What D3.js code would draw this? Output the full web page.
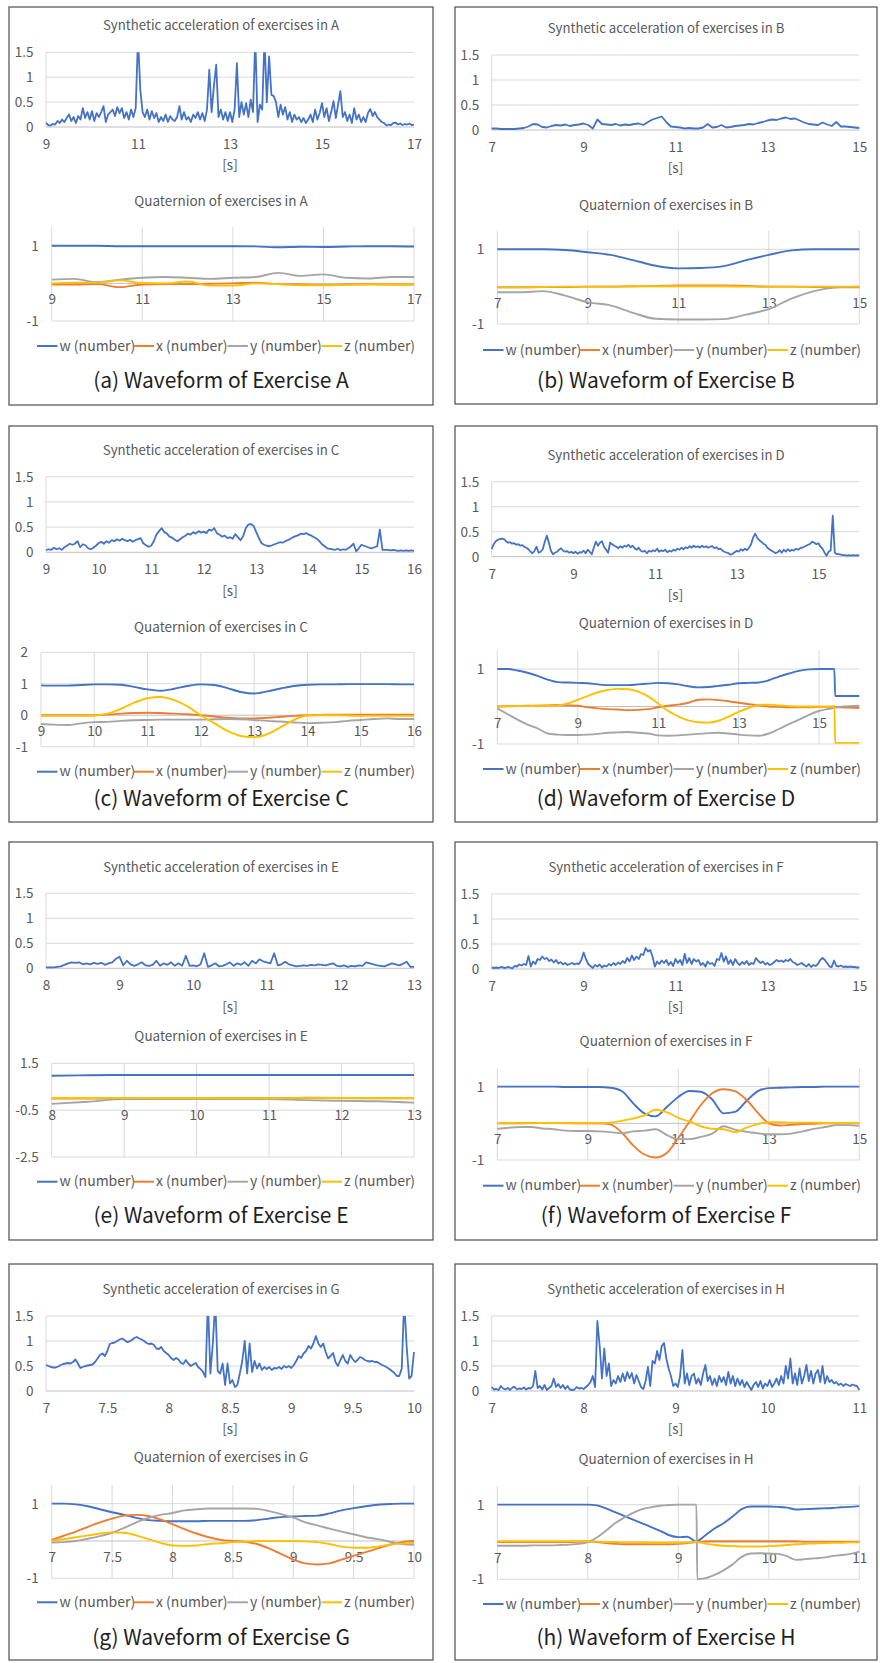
<!DOCTYPE html>
<html>
<head>
<meta charset="utf-8">
<script src="https://cdn.jsdelivr.net/npm/d3@7"></script>
<style>
  html, body { margin: 0; padding: 0; background: #ffffff; }
  svg { display: block; font-family: "Noto Sans CJK JP", "Noto Sans", sans-serif; }
</style>
</head>
<body>
<svg id="fig" width="880" height="1663"></svg>
<script>
// ---------------- shared labels ----------------
const seriesNames = ["w (number)", "x (number)", "y (number)", "z (number)"];
const accYTicks = [0, 0.5, 1, 1.5];

// ---------------- Exercise A ----------------
const accTicksA = [9, 11, 13, 15, 17];
const accA = [
  0.08,0.04,0.03,0.06,0.05,0.12,0.08,0.15,0.10,0.18,
  0.25,0.12,0.20,0.08,0.22,0.15,0.38,0.18,0.30,0.15,
  0.32,0.12,0.28,0.20,0.30,0.42,0.10,0.25,0.30,0.35,
  0.22,0.40,0.28,0.38,0.18,0.30,0.15,0.35,0.20,0.38,
  1.80,0.75,0.30,0.20,0.35,0.15,0.32,0.18,0.28,0.10,
  0.20,0.12,0.25,0.10,0.22,0.15,0.12,0.20,0.42,0.15,
  0.30,0.15,0.20,0.10,0.25,0.18,0.30,0.15,0.28,0.12,
  0.35,1.15,0.30,0.82,1.25,0.20,0.35,0.15,0.30,0.12,
  0.30,0.10,0.35,1.28,0.20,0.50,0.25,0.48,0.20,0.55,
  0.30,1.80,0.10,0.45,0.35,1.80,0.50,1.42,0.65,0.62,
  0.50,0.20,0.45,0.25,0.40,0.15,0.30,0.10,0.25,0.15,
  0.20,0.10,0.18,0.08,0.15,0.25,0.10,0.35,0.15,0.28,
  0.48,0.20,0.38,0.12,0.30,0.52,0.18,0.45,0.72,0.20,
  0.30,0.12,0.25,0.08,0.38,0.15,0.25,0.10,0.20,0.10,
  0.28,0.36,0.22,0.30,0.20,0.15,0.10,0.08,0.03,0.05,
  0.04,0.08,0.09,0.05,0.07,0.04,0.06,0.05,0.07,0.04,
  0.05
];
const quatTA = [9,9.5,10,10.5,11,11.5,12,12.5,13,13.5,14,14.5,15,15.5,16,16.5,17];
const quatWA = [1.0,1.0,1.0,0.99,0.99,0.99,0.99,0.99,0.99,0.985,0.96,0.975,0.97,0.98,0.99,0.99,0.98];
const quatXA = [-0.03,-0.03,-0.02,-0.1,-0.03,-0.02,-0.02,-0.01,0.0,0.02,-0.02,-0.03,-0.04,-0.03,-0.02,-0.03,-0.03];
const quatYA = [0.1,0.12,0.03,0.1,0.15,0.17,0.15,0.12,0.15,0.17,0.28,0.2,0.24,0.15,0.13,0.17,0.17];
const quatZA = [0.0,0.02,0.02,0.08,0.01,0.0,0.05,-0.06,-0.06,0.0,-0.02,-0.05,-0.05,-0.04,-0.03,-0.03,-0.03];
const quatYTicksA = [-1, 1];

// ---------------- Exercise B ----------------
const accTicksB = [7, 9, 11, 13, 15];
const accB = [
  0.03,0.03,0.02,0.02,0.02,0.02,0.03,0.04,0.07,0.12,
  0.11,0.06,0.05,0.08,0.10,0.09,0.11,0.08,0.10,0.11,
  0.13,0.10,0.03,0.21,0.12,0.11,0.10,0.12,0.09,0.11,
  0.10,0.12,0.13,0.10,0.16,0.21,0.24,0.27,0.16,0.07,
  0.06,0.05,0.03,0.04,0.03,0.03,0.05,0.12,0.05,0.06,
  0.10,0.05,0.06,0.08,0.09,0.10,0.12,0.11,0.14,0.16,
  0.19,0.21,0.20,0.23,0.25,0.22,0.23,0.19,0.15,0.12,
  0.11,0.10,0.15,0.11,0.08,0.16,0.07,0.07,0.06,0.05,
  0.04
];
const quatTB = [7,7.5,8,8.5,9,9.5,10,10.5,11,11.5,12,12.5,13,13.5,14,14.5,15];
const quatWB = [1.0,1.0,1.0,0.98,0.92,0.85,0.71,0.56,0.49,0.5,0.55,0.71,0.85,0.97,1.0,1.0,1.0];
const quatXB = [-0.02,-0.02,-0.01,-0.01,0.0,0.0,0.01,0.02,0.03,0.03,0.03,0.02,0.0,0.0,-0.01,-0.02,-0.02];
const quatYB = [-0.15,-0.15,-0.12,-0.24,-0.42,-0.5,-0.7,-0.86,-0.88,-0.88,-0.87,-0.75,-0.6,-0.32,-0.12,-0.02,0.0];
const quatZB = [-0.02,-0.02,-0.01,0.0,0.0,0.0,0.01,0.01,0.01,0.01,0.01,0.0,0.0,0.0,0.0,0.0,0.0];
const quatYTicksB = [-1, 1];

// ---------------- Exercise C ----------------
const accTicksC = [9, 10, 11, 12, 13, 14, 15, 16];
const accC = [
  0.04,0.06,0.05,0.09,0.06,0.08,0.05,0.10,0.13,0.17,
  0.15,0.17,0.22,0.10,0.16,0.14,0.08,0.06,0.09,0.13,
  0.18,0.21,0.17,0.22,0.19,0.24,0.22,0.26,0.23,0.27,
  0.24,0.22,0.25,0.21,0.24,0.26,0.28,0.18,0.14,0.11,
  0.13,0.22,0.35,0.42,0.48,0.40,0.37,0.31,0.29,0.25,
  0.22,0.26,0.30,0.33,0.37,0.35,0.40,0.37,0.42,0.39,
  0.41,0.38,0.45,0.43,0.48,0.38,0.35,0.31,0.33,0.28,
  0.30,0.27,0.36,0.30,0.24,0.32,0.48,0.55,0.56,0.52,
  0.40,0.28,0.18,0.15,0.13,0.12,0.14,0.16,0.18,0.20,
  0.19,0.22,0.24,0.27,0.30,0.32,0.34,0.37,0.36,0.38,
  0.35,0.33,0.30,0.27,0.22,0.16,0.12,0.08,0.07,0.06,
  0.05,0.07,0.04,0.06,0.05,0.08,0.12,0.17,0.02,0.08,
  0.15,0.13,0.11,0.09,0.08,0.10,0.12,0.45,0.05,0.05,
  0.05,0.04,0.05,0.04,0.03,0.04,0.03,0.04,0.03,0.04,
  0.03
];
const quatTC = [9,9.25,9.5,9.75,10,10.25,10.5,10.75,11,11.25,11.5,11.75,12,12.25,12.5,12.75,13,13.25,13.5,13.75,14,14.25,14.5,14.75,15,15.25,15.5,15.75,16];
const quatWC = [0.95,0.94,0.94,0.96,0.98,0.98,0.97,0.9,0.82,0.78,0.84,0.93,0.98,0.96,0.86,0.74,0.69,0.76,0.85,0.93,0.97,0.98,0.98,0.99,0.99,0.99,0.99,0.98,0.98];
const quatXC = [0.0,0.0,0.0,0.0,0.0,0.02,0.05,0.07,0.08,0.07,0.05,0.03,0.0,-0.04,-0.08,-0.1,-0.1,-0.08,-0.05,-0.02,0.0,0.01,0.02,0.02,0.02,0.02,0.02,0.02,0.02];
const quatYC = [-0.28,-0.3,-0.31,-0.26,-0.22,-0.21,-0.18,-0.16,-0.15,-0.14,-0.14,-0.14,-0.14,-0.13,-0.12,-0.13,-0.15,-0.18,-0.2,-0.23,-0.25,-0.24,-0.22,-0.18,-0.15,-0.12,-0.1,-0.12,-0.12];
const quatZC = [-0.02,-0.02,-0.02,-0.02,-0.01,0.05,0.2,0.4,0.54,0.58,0.48,0.28,0.0,-0.25,-0.5,-0.66,-0.7,-0.6,-0.38,-0.15,-0.01,0.0,0.0,-0.01,-0.02,-0.02,-0.02,-0.02,-0.02];
const quatYTicksC = [-1, 0, 1, 2];

// ---------------- Exercise D ----------------
const accTicksD = [7, 9, 11, 13, 15];
const accD = [
  0.15,0.25,0.31,0.34,0.35,0.36,0.35,0.31,0.28,0.29,
  0.26,0.27,0.24,0.25,0.22,0.23,0.20,0.18,0.15,0.10,
  0.07,0.12,0.20,0.08,0.10,0.15,0.30,0.42,0.28,0.12,
  0.05,0.08,0.10,0.14,0.17,0.12,0.10,0.11,0.08,0.10,
  0.07,0.10,0.06,0.09,0.08,0.12,0.07,0.14,0.10,0.05,
  0.18,0.30,0.22,0.28,0.31,0.20,0.14,0.08,0.28,0.25,
  0.22,0.20,0.17,0.21,0.18,0.22,0.20,0.24,0.19,0.22,
  0.17,0.14,0.18,0.12,0.10,0.12,0.07,0.12,0.10,0.13,
  0.11,0.16,0.10,0.13,0.11,0.14,0.09,0.12,0.10,0.14,
  0.12,0.16,0.14,0.18,0.15,0.19,0.17,0.21,0.18,0.22,
  0.19,0.21,0.18,0.22,0.19,0.21,0.18,0.20,0.21,0.17,
  0.19,0.15,0.16,0.12,0.10,0.08,0.07,0.04,0.06,0.09,
  0.12,0.10,0.15,0.12,0.16,0.13,0.18,0.25,0.38,0.46,
  0.38,0.33,0.30,0.26,0.24,0.18,0.15,0.12,0.10,0.07,
  0.09,0.13,0.08,0.14,0.10,0.15,0.11,0.14,0.12,0.16,
  0.14,0.17,0.18,0.20,0.22,0.24,0.26,0.30,0.28,0.25,
  0.27,0.20,0.16,0.08,0.02,0.10,0.13,0.82,0.08,0.05,
  0.05,0.04,0.03,0.03,0.02,0.03,0.02,0.03,0.02,0.03,
  0.02
];
const quatTD = [7,7.25,7.5,7.75,8,8.25,8.5,8.75,9,9.25,9.5,9.75,10,10.25,10.5,10.75,11,11.25,11.5,11.75,12,12.25,12.5,12.75,13,13.25,13.5,13.75,14,14.25,14.5,14.75,15,15.25,15.38,15.4,15.5,15.75,16];
const quatWD = [1.0,1.0,0.96,0.9,0.82,0.72,0.65,0.64,0.63,0.62,0.59,0.57,0.57,0.57,0.59,0.61,0.63,0.62,0.59,0.54,0.51,0.52,0.55,0.58,0.62,0.63,0.64,0.7,0.8,0.88,0.95,0.99,1.0,1.0,1.0,0.28,0.28,0.28,0.28];
const quatXD = [0.0,0.01,0.01,0.02,0.02,0.03,0.04,0.03,0.02,-0.02,-0.05,-0.07,-0.08,-0.1,-0.09,-0.07,-0.02,0.02,0.05,0.1,0.18,0.19,0.17,0.14,0.1,0.06,0.03,0.0,-0.01,-0.02,-0.02,-0.02,-0.01,-0.01,0.0,-0.02,-0.02,-0.03,-0.04];
const quatYD = [-0.05,-0.2,-0.35,-0.48,-0.58,-0.72,-0.75,-0.76,-0.76,-0.75,-0.73,-0.7,-0.69,-0.68,-0.7,-0.72,-0.77,-0.78,-0.77,-0.75,-0.73,-0.71,-0.7,-0.72,-0.75,-0.77,-0.78,-0.72,-0.6,-0.47,-0.35,-0.22,-0.12,-0.06,-0.03,-0.02,-0.01,0.01,0.02];
const quatZD = [0.0,0.0,0.01,0.01,0.02,0.02,0.03,0.08,0.18,0.28,0.38,0.44,0.47,0.46,0.4,0.27,0.08,-0.12,-0.26,-0.37,-0.42,-0.43,-0.38,-0.27,-0.14,-0.04,0.04,0.05,0.03,0.01,0.0,0.0,0.0,0.0,0.0,-0.97,-0.97,-0.97,-0.97];
const quatYTicksD = [-1, 1];

// ---------------- Exercise E ----------------
const accTicksE = [8, 9, 10, 11, 12, 13];
const accE = [
  0.02,0.02,0.02,0.03,0.04,0.07,0.10,0.12,0.11,0.12,
  0.08,0.10,0.08,0.11,0.09,0.11,0.07,0.10,0.12,0.19,
  0.23,0.06,0.15,0.08,0.05,0.08,0.12,0.06,0.05,0.07,
  0.15,0.05,0.10,0.07,0.12,0.05,0.10,0.05,0.25,0.05,
  0.06,0.04,0.08,0.30,0.03,0.06,0.10,0.04,0.05,0.08,
  0.12,0.05,0.10,0.07,0.12,0.05,0.15,0.10,0.18,0.14,
  0.12,0.10,0.30,0.06,0.08,0.13,0.08,0.06,0.04,0.05,
  0.06,0.05,0.07,0.06,0.08,0.07,0.06,0.08,0.10,0.05,
  0.04,0.06,0.03,0.05,0.04,0.06,0.05,0.12,0.10,0.08,
  0.06,0.05,0.04,0.07,0.10,0.08,0.06,0.09,0.13,0.03,
  0.03
];
const quatTE = [8,8.5,9,9.5,10,10.5,11,11.5,12,12.5,13];
const quatWE = [0.97,0.99,1.0,1.0,1.0,1.0,1.0,1.0,1.0,1.0,1.0];
const quatXE = [0.0,0.0,0.0,0.0,0.0,0.01,0.01,0.03,0.02,0.01,0.01];
const quatYE = [-0.23,-0.14,-0.03,-0.03,-0.03,-0.03,-0.03,-0.07,-0.1,-0.12,-0.18];
const quatZE = [0.02,0.02,0.02,0.01,0.01,0.01,0.01,0.02,0.02,0.02,0.02];
const quatYTicksE = [-2.5, -0.5, 1.5];

// ---------------- Exercise F ----------------
const accTicksF = [7, 9, 11, 13, 15];
const accF = [
  0.03,0.02,0.03,0.02,0.04,0.03,0.02,0.04,0.03,0.01,
  0.06,0.05,0.09,0.07,0.10,0.08,0.26,0.05,0.15,0.10,
  0.20,0.18,0.25,0.20,0.22,0.16,0.19,0.13,0.18,0.11,
  0.14,0.09,0.12,0.08,0.10,0.12,0.09,0.11,0.10,0.18,
  0.33,0.20,0.10,0.06,0.02,0.08,0.05,0.09,0.03,0.07,
  0.05,0.10,0.07,0.12,0.08,0.13,0.10,0.16,0.12,0.22,
  0.15,0.27,0.18,0.25,0.20,0.30,0.28,0.42,0.35,0.38,
  0.25,0.05,0.15,0.10,0.17,0.12,0.18,0.08,0.14,0.06,
  0.20,0.12,0.18,0.08,0.30,0.12,0.22,0.10,0.20,0.15,
  0.18,0.08,0.12,0.05,0.15,0.10,0.12,0.06,0.20,0.18,
  0.32,0.15,0.25,0.10,0.18,0.08,0.20,0.12,0.08,0.14,
  0.10,0.16,0.08,0.12,0.10,0.22,0.16,0.12,0.15,0.09,
  0.12,0.08,0.10,0.14,0.18,0.15,0.17,0.14,0.18,0.16,
  0.20,0.14,0.12,0.08,0.10,0.12,0.08,0.05,0.10,0.04,
  0.08,0.06,0.10,0.18,0.22,0.18,0.12,0.05,0.04,0.17,
  0.06,0.05,0.07,0.04,0.05,0.04,0.05,0.04,0.04,0.03,
  0.03
];
const quatTF = [7,7.25,7.5,7.75,8,8.25,8.5,8.75,9,9.25,9.5,9.75,10,10.25,10.5,10.75,11,11.25,11.5,11.75,12,12.25,12.5,12.75,13,13.25,13.5,13.75,14,14.25,14.5,14.75,15];
const quatWF = [1.0,1.0,1.0,1.0,1.0,1.0,0.99,0.99,0.99,0.99,0.97,0.88,0.55,0.27,0.19,0.45,0.72,0.88,0.86,0.65,0.27,0.31,0.6,0.87,0.96,0.97,0.98,0.99,0.99,1.0,1.0,1.0,1.0];
const quatXF = [0.0,0.0,0.0,0.01,0.01,0.01,0.01,0.0,0.0,0.0,-0.03,-0.25,-0.6,-0.85,-0.93,-0.8,-0.4,0.05,0.5,0.82,0.93,0.88,0.65,0.3,0.0,-0.06,-0.04,-0.02,-0.01,0.0,0.0,0.0,0.0];
const quatYF = [-0.15,-0.12,-0.1,-0.1,-0.14,-0.16,-0.2,-0.21,-0.21,-0.22,-0.24,-0.27,-0.22,-0.2,-0.16,-0.32,-0.43,-0.43,-0.37,-0.28,-0.08,-0.17,-0.23,-0.27,-0.3,-0.3,-0.28,-0.22,-0.15,-0.1,-0.05,-0.05,-0.07];
const quatZF = [0.0,0.0,0.0,0.0,0.01,0.01,0.0,0.0,0.0,0.0,0.02,0.07,0.13,0.22,0.37,0.3,0.15,0.05,-0.08,-0.15,-0.16,-0.24,-0.12,-0.02,0.03,0.03,0.02,0.02,0.02,0.01,0.01,0.01,0.01];
const quatYTicksF = [-1, 1];

// ---------------- Exercise G ----------------
const accTicksG = [7, 7.5, 8, 8.5, 9, 9.5, 10];
const accG = [
  0.52,0.50,0.48,0.47,0.47,0.49,0.52,0.54,0.55,0.56,
  0.55,0.58,0.63,0.55,0.46,0.48,0.50,0.51,0.52,0.53,
  0.58,0.65,0.72,0.75,0.70,0.80,0.94,0.96,0.97,1.00,
  1.03,1.05,1.02,0.98,0.99,1.02,1.06,1.08,1.05,1.03,
  1.00,0.96,0.94,0.95,0.92,0.85,0.84,0.88,0.80,0.76,
  0.72,0.66,0.62,0.66,0.63,0.56,0.54,0.62,0.55,0.50,
  0.53,0.56,0.48,0.44,0.38,0.28,1.80,0.35,0.95,1.80,
  0.40,0.35,0.55,0.12,0.55,0.15,0.22,0.08,0.12,0.35,
  0.60,1.00,0.35,0.95,0.38,0.60,0.45,0.55,0.42,0.48,
  0.44,0.48,0.42,0.46,0.45,0.48,0.44,0.50,0.47,0.50,
  0.46,0.52,0.60,0.70,0.66,0.75,0.80,0.90,0.85,0.95,
  1.10,0.95,0.88,0.95,0.78,0.65,0.70,0.76,0.58,0.50,
  0.62,0.72,0.60,0.55,0.72,0.64,0.58,0.62,0.68,0.66,
  0.62,0.60,0.59,0.60,0.58,0.58,0.55,0.52,0.50,0.47,
  0.44,0.40,0.36,0.30,0.30,0.45,1.80,0.90,0.25,0.30,
  0.78
];
const quatTG = [7,7.1,7.2,7.3,7.4,7.5,7.6,7.7,7.8,7.9,8,8.1,8.2,8.3,8.4,8.5,8.6,8.7,8.8,8.9,9,9.1,9.2,9.3,9.4,9.5,9.6,9.7,9.8,9.9,10];
const quatWG = [1.0,1.0,0.98,0.93,0.85,0.77,0.7,0.62,0.56,0.54,0.53,0.53,0.53,0.54,0.54,0.54,0.54,0.56,0.6,0.64,0.66,0.67,0.68,0.74,0.82,0.88,0.93,0.97,0.99,1.0,1.0];
const quatXG = [0.03,0.14,0.25,0.38,0.5,0.6,0.68,0.7,0.67,0.58,0.45,0.32,0.2,0.1,0.03,0.0,-0.02,-0.08,-0.2,-0.35,-0.5,-0.6,-0.63,-0.6,-0.5,-0.4,-0.3,-0.2,-0.1,-0.03,0.0];
const quatYG = [-0.04,-0.03,0.0,0.06,0.13,0.22,0.35,0.5,0.62,0.7,0.75,0.82,0.85,0.87,0.87,0.87,0.87,0.86,0.8,0.72,0.63,0.5,0.42,0.33,0.25,0.18,0.1,0.05,-0.02,-0.08,-0.1];
const quatZG = [0.0,0.05,0.1,0.15,0.2,0.23,0.22,0.15,0.05,-0.05,-0.12,-0.13,-0.12,-0.08,-0.06,-0.03,-0.02,0.0,0.0,0.0,0.0,-0.01,-0.03,-0.08,-0.15,-0.18,-0.18,-0.15,-0.1,-0.07,-0.05];
const quatYTicksG = [-1, 1];

// ---------------- Exercise H ----------------
const accTicksH = [7, 8, 9, 10, 11];
const accH = [
  0.08,0.03,0.04,0.02,0.10,0.05,0.03,0.06,
  0.02,0.07,0.08,0.03,0.05,0.04,0.07,0.03,
  0.06,0.05,0.10,0.40,0.06,0.10,0.03,0.12,
  0.02,0.06,0.10,0.25,0.08,0.14,0.06,0.12,
  0.04,0.10,0.03,0.02,0.03,0.08,0.05,0.06,
  0.04,0.08,0.12,0.18,0.30,0.08,1.40,0.90,
  0.25,0.85,0.30,0.55,0.10,0.22,0.15,0.30,
  0.18,0.35,0.20,0.38,0.25,0.36,0.15,0.32,
  0.20,0.08,0.04,0.20,0.48,0.10,0.60,0.55,
  0.80,0.62,0.90,0.96,0.65,0.45,0.30,0.10,
  0.15,0.08,0.30,0.82,0.15,0.35,0.12,0.30,
  0.35,0.15,0.25,0.12,0.35,0.52,0.20,0.30,
  0.12,0.25,0.10,0.30,0.18,0.28,0.12,0.38,
  0.15,0.30,0.10,0.25,0.12,0.22,0.08,0.18,
  0.10,0.02,0.12,0.18,0.08,0.20,0.05,0.15,
  0.10,0.22,0.08,0.15,0.25,0.12,0.30,0.15,
  0.50,0.25,0.65,0.15,0.35,0.12,0.45,0.15,
  0.30,0.52,0.20,0.40,0.15,0.35,0.42,0.18,
  0.50,0.15,0.30,0.18,0.22,0.15,0.18,0.12,
  0.15,0.10,0.14,0.12,0.10,0.13,0.11,0.10,
  0.02
];
const quatTH = [7,7.1,7.2,7.3,7.4,7.5,7.6,7.7,7.8,7.9,8,8.1,8.2,8.3,8.4,8.5,8.6,8.7,8.8,8.9,9,9.1,9.2,9.21,9.3,9.4,9.5,9.6,9.7,9.8,9.9,10,10.1,10.2,10.3,10.4,10.5,10.6,10.7,10.8,10.9,11];
const quatWH = [1.0,1.0,1.0,1.0,1.0,1.0,1.0,1.0,1.0,1.0,1.0,0.98,0.9,0.8,0.7,0.6,0.5,0.4,0.3,0.18,0.13,0.14,0.01,0.02,0.18,0.36,0.5,0.68,0.88,0.95,0.95,0.95,0.94,0.92,0.87,0.88,0.89,0.9,0.91,0.93,0.94,0.96];
const quatXH = [0.0,0.0,0.0,0.0,0.0,0.0,0.0,0.0,0.0,0.01,0.02,0.0,-0.03,-0.05,-0.06,-0.06,-0.06,-0.06,-0.06,-0.06,-0.05,-0.03,0.0,0.0,0.02,0.02,0.02,0.02,0.02,0.02,0.02,0.02,0.02,0.02,0.02,0.01,0.01,0.01,0.01,0.01,0.01,0.01];
const quatYH = [-0.1,-0.1,-0.1,-0.1,-0.09,-0.09,-0.09,-0.08,-0.07,-0.05,0.0,0.12,0.3,0.5,0.65,0.78,0.88,0.93,0.97,0.99,1.0,1.0,1.0,-1.0,-0.97,-0.88,-0.76,-0.6,-0.4,-0.31,-0.3,-0.31,-0.32,-0.38,-0.48,-0.46,-0.44,-0.42,-0.38,-0.35,-0.32,-0.26];
const quatZH = [0.02,0.02,0.02,0.02,0.02,0.02,0.02,0.02,0.02,0.02,0.02,0.01,0.0,0.0,-0.01,-0.01,-0.01,-0.02,-0.02,-0.02,-0.02,-0.01,0.0,0.0,-0.04,-0.08,-0.1,-0.11,-0.12,-0.12,-0.12,-0.11,-0.1,-0.08,-0.06,-0.05,-0.04,-0.03,-0.02,-0.02,-0.01,-0.01];
const quatYTicksH = [-1, 1];

// ---------------- panels (data wiring) ----------------
const panels = [
  { tag: "a", name: "A", domain: [9, 17],  xTicks: accTicksA, acc: accA, qt: quatTA, q: [quatWA, quatXA, quatYA, quatZA], qDomain: [-1, 1.5], qTicks: quatYTicksA },
  { tag: "b", name: "B", domain: [7, 15],  xTicks: accTicksB, acc: accB, qt: quatTB, q: [quatWB, quatXB, quatYB, quatZB], qDomain: [-1, 1.5], qTicks: quatYTicksB },
  { tag: "c", name: "C", domain: [9, 16],  xTicks: accTicksC, acc: accC, qt: quatTC, q: [quatWC, quatXC, quatYC, quatZC], qDomain: [-1, 2],   qTicks: quatYTicksC },
  { tag: "d", name: "D", domain: [7, 16],  xTicks: accTicksD, acc: accD, qt: quatTD, q: [quatWD, quatXD, quatYD, quatZD], qDomain: [-1, 1.5], qTicks: quatYTicksD },
  { tag: "e", name: "E", domain: [8, 13],  xTicks: accTicksE, acc: accE, qt: quatTE, q: [quatWE, quatXE, quatYE, quatZE], qDomain: [-2.5, 1.5], qTicks: quatYTicksE },
  { tag: "f", name: "F", domain: [7, 15],  xTicks: accTicksF, acc: accF, qt: quatTF, q: [quatWF, quatXF, quatYF, quatZF], qDomain: [-1, 1.5], qTicks: quatYTicksF },
  { tag: "g", name: "G", domain: [7, 10],  xTicks: accTicksG, acc: accG, qt: quatTG, q: [quatWG, quatXG, quatYG, quatZG], qDomain: [-1, 1.5], qTicks: quatYTicksG },
  { tag: "h", name: "H", domain: [7, 11],  xTicks: accTicksH, acc: accH, qt: quatTH, q: [quatWH, quatXH, quatYH, quatZH], qDomain: [-1, 1.5], qTicks: quatYTicksH }
];

// ---------------- page layout (pixels) ----------------
// box: [x, y, w, h]; acc / quat: [left, right, top, bottom]
const layout = [
  { box: [9, 7, 424, 398],    accTitle: 26,    acc: [46, 414, 52.3, 127],      quatTitle: 201,    quat: [51.7, 414, 227, 321],       legend: 346,    caption: 381 },
  { box: [455, 7, 422, 397],  accTitle: 29,    acc: [491.7, 859.3, 55, 130],   quatTitle: 205,    quat: [497.3, 859.3, 230.6, 324],  legend: 350,    caption: 380.7 },
  { box: [9, 426, 424, 396],  accTitle: 451,   acc: [46, 414, 476.7, 552.3],   quatTitle: 627.3,  quat: [41, 414, 652.3, 746.7],     legend: 771.7,  caption: 799 },
  { box: [455, 426, 422, 396],accTitle: 455.7, acc: [491.7, 859.3, 481.7, 556.7], quatTitle: 623.7, quat: [497.3, 859.3, 650.3, 744], legend: 769,    caption: 799 },
  { box: [9, 842, 424, 398],  accTitle: 867.3, acc: [46, 414, 893.3, 968.3],   quatTitle: 1036.7, quat: [51.7, 414, 1063.3, 1157],   legend: 1181.7, caption: 1216 },
  { box: [455, 842, 422, 398],accTitle: 867.3, acc: [491.7, 859.3, 894, 969],  quatTitle: 1041,   quat: [497.3, 859.3, 1068.3, 1160],legend: 1185.7, caption: 1216 },
  { box: [9, 1264, 424, 396], accTitle: 1290,  acc: [46, 414, 1316, 1391],     quatTitle: 1457.7, quat: [51.7, 414, 1485, 1578.3],   legend: 1602.3, caption: 1637.7 },
  { box: [455, 1264, 422, 396],accTitle: 1290, acc: [491.7, 859.3, 1316, 1391],quatTitle: 1459.3, quat: [497.3, 859.3, 1486, 1579.3], legend: 1604,   caption: 1637.7 }
];

// ---------------- styles ----------------
const colors = ["#4472C4", "#ED7D31", "#A5A5A5", "#FFC000"];
const textGray = "#595959";
const gridGray = "#d9d9d9";
const axisGray = "#bfbfbf";
const legendOffsets = [28, 124.5, 218.5, 312.5];

const svg = d3.select("#fig");
const defs = svg.append("defs");

function styleAxisText(sel, size) {
  sel.attr("font-family", null).attr("font-size", null);
  sel.selectAll("text").attr("fill", textGray).style("font-size", size + "px");
}

panels.forEach((p, i) => {
  const L = layout[i];
  const g = svg.append("g").attr("class", "panel-" + p.tag);
  const [bx, by, bw, bh] = L.box;
  const cx = bx + bw / 2;

  // panel frame
  g.append("rect").attr("x", bx).attr("y", by).attr("width", bw).attr("height", bh)
    .attr("fill", "#fff").attr("stroke", "#4d4d4d").attr("stroke-width", 1.2);

  // ---------- synthetic acceleration ----------
  {
    const [l, r, t, b] = L.acc;
    const x = d3.scaleLinear().domain(p.domain).range([l, r]);
    const y = d3.scaleLinear().domain([0, 1.5]).range([b, t]);

    g.append("text").attr("x", cx).attr("y", L.accTitle).attr("dy", "0.34em")
      .attr("text-anchor", "middle").attr("fill", textGray).style("font-size", "13.2px")
      .text("Synthetic acceleration of exercises in " + p.name);

    g.append("g").selectAll("line").data(accYTicks.filter(v => v > 0)).join("line")
      .attr("x1", l).attr("x2", r).attr("y1", d => y(d)).attr("y2", d => y(d))
      .attr("stroke", gridGray).attr("stroke-width", 1);
    g.append("line").attr("x1", l).attr("x2", l).attr("y1", t).attr("y2", b)
      .attr("stroke", gridGray).attr("stroke-width", 1);
    g.append("line").attr("x1", l).attr("x2", r).attr("y1", y(0)).attr("y2", y(0))
      .attr("stroke", axisGray).attr("stroke-width", 1);

    const yAxis = g.append("g").attr("transform", `translate(${l},0)`)
      .call(d3.axisLeft(y).tickValues(accYTicks).tickSize(0).tickFormat(d => String(d)));
    yAxis.select(".domain").remove();
    styleAxisText(yAxis, 13.5);
    yAxis.selectAll("text").attr("x", -12.5).attr("dy", "0.34em");

    const xAxis = g.append("g").attr("transform", `translate(0,${b})`)
      .call(d3.axisBottom(x).tickValues(p.xTicks).tickSize(0).tickFormat(d => String(d)));
    xAxis.select(".domain").remove();
    styleAxisText(xAxis, 13.5);
    xAxis.selectAll("text").attr("y", 17.4).attr("dy", "0.34em");

    g.append("text").attr("x", (l + r) / 2).attr("y", b + 38.7).attr("dy", "0.34em")
      .attr("text-anchor", "middle").attr("fill", textGray).style("font-size", "13.5px").text("[s]");

    const clipId = "clip-acc-" + p.tag;
    defs.append("clipPath").attr("id", clipId).append("rect")
      .attr("x", l - 2).attr("y", t).attr("width", r - l + 4).attr("height", b - t + 3);

    const step = (p.domain[1] - p.domain[0]) / (p.acc.length - 1);
    const line = d3.line().x((d, k) => x(p.domain[0] + k * step)).y(d => y(d));
    g.append("path").attr("clip-path", `url(#${clipId})`).datum(p.acc)
      .attr("d", line).attr("fill", "none").attr("stroke", colors[0])
      .attr("stroke-width", 1.8).attr("stroke-linejoin", "round");
  }

  // ---------- quaternion ----------
  {
    const [l, r, t, b] = L.quat;
    const x = d3.scaleLinear().domain(p.domain).range([l, r]);
    const y = d3.scaleLinear().domain(p.qDomain).range([b, t]);

    g.append("text").attr("x", cx).attr("y", L.quatTitle).attr("dy", "0.34em")
      .attr("text-anchor", "middle").attr("fill", textGray).style("font-size", "13.5px")
      .text("Quaternion of exercises in " + p.name);

    g.append("g").selectAll("line").data(p.xTicks).join("line")
      .attr("x1", d => x(d)).attr("x2", d => x(d)).attr("y1", t).attr("y2", b)
      .attr("stroke", gridGray).attr("stroke-width", 1);
    g.append("g").selectAll("line").data(p.qTicks.filter(v => v !== 0)).join("line")
      .attr("x1", l).attr("x2", r).attr("y1", d => y(d)).attr("y2", d => y(d))
      .attr("stroke", gridGray).attr("stroke-width", 1);
    g.append("line").attr("x1", l).attr("x2", r).attr("y1", y(0)).attr("y2", y(0))
      .attr("stroke", axisGray).attr("stroke-width", 1);

    const yAxis = g.append("g").attr("transform", `translate(${l},0)`)
      .call(d3.axisLeft(y).tickValues(p.qTicks).tickSize(0).tickFormat(d => String(d)));
    yAxis.select(".domain").remove();
    styleAxisText(yAxis, 13.5);
    yAxis.selectAll("text").attr("x", -13).attr("dy", "0.34em");

    const xAxis = g.append("g").attr("transform", `translate(0,${y(0)})`)
      .call(d3.axisBottom(x).tickValues(p.xTicks).tickSize(0).tickFormat(d => String(d)));
    xAxis.select(".domain").remove();
    styleAxisText(xAxis, 13.5);
    xAxis.selectAll("text").attr("y", 16.5).attr("dy", "0.34em");

    const line = d3.line().curve(d3.curveMonotoneX)
      .x((d, k) => x(p.qt[k])).y(d => y(d));
    p.q.forEach((vals, s) => {
      g.append("path").datum(vals).attr("d", line).attr("fill", "none")
        .attr("stroke", colors[s]).attr("stroke-width", 1.9).attr("stroke-linejoin", "round");
    });

    // legend
    const lg = g.append("g");
    seriesNames.forEach((name, s) => {
      const x0 = bx + legendOffsets[s];
      lg.append("line").attr("x1", x0).attr("x2", x0 + 20.5).attr("y1", L.legend).attr("y2", L.legend)
        .attr("stroke", colors[s]).attr("stroke-width", 2);
      lg.append("text").attr("x", x0 + 22.5).attr("y", L.legend).attr("dy", "0.34em")
        .attr("fill", textGray).style("font-size", "14px").text(name);
    });
  }

  // caption
  g.append("text").attr("x", cx).attr("y", L.caption).attr("dy", "0.34em")
    .attr("text-anchor", "middle").attr("fill", "#1f1f1f").style("font-size", "21px")
    .text(`(${p.tag}) Waveform of Exercise ${p.name}`);
});
</script>
</body>
</html>
